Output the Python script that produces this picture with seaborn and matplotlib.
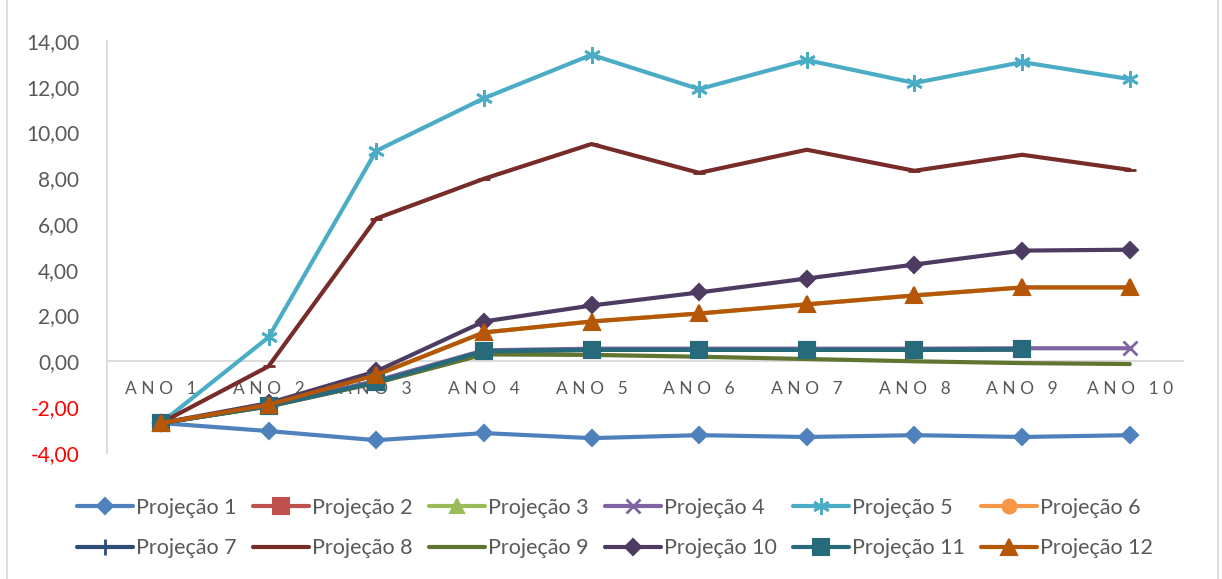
import numpy as np
import pandas as pd
import matplotlib
matplotlib.use("Agg")
import matplotlib.pyplot as plt
import seaborn as sns
from matplotlib.patches import Rectangle

anos = ["ANO 1", "ANO 2", "ANO 3", "ANO 4", "ANO 5", "ANO 6", "ANO 7", "ANO 8", "ANO 9", "ANO 10"]
nan = np.nan

proj1 = [-2.70, -3.05, -3.45, -3.14, -3.36, -3.23, -3.31, -3.23, -3.31, -3.23]
proj2 = [-2.70, -1.96, -0.92, 0.44, 0.50, 0.50, 0.50, 0.50, 0.52, nan]
proj3 = [-2.70, -1.90, -0.60, 1.26, 1.74, 2.09, 2.49, 2.88, 3.23, 3.23]
proj4 = [-2.70, -1.95, -0.85, 0.48, 0.55, 0.55, 0.55, 0.55, 0.57, 0.57]
proj5 = [-2.70, 1.05, 9.20, 11.50, 13.40, 11.90, 13.17, 12.17, 13.08, 12.34]
proj6 = [-2.70, nan, nan, nan, nan, nan, nan, nan, nan, nan]
proj7 = [-2.70, -1.96, -0.92, 0.44, 0.50, 0.50, 0.50, 0.50, 0.52, nan]
proj8 = [-2.70, -0.22, 6.24, 7.98, 9.50, 8.24, 9.25, 8.33, 9.03, 8.37]
proj9 = [-2.70, -1.98, -0.95, 0.30, 0.28, 0.20, 0.10, 0.00, -0.08, -0.12]
proj10 = [-2.70, -1.83, -0.44, 1.74, 2.44, 3.01, 3.62, 4.23, 4.84, 4.88]
proj11 = [-2.70, -1.96, -0.92, 0.44, 0.50, 0.50, 0.50, 0.50, 0.52, nan]
proj12 = [-2.70, -1.90, -0.60, 1.26, 1.74, 2.09, 2.49, 2.88, 3.23, 3.23]

series = [proj1, proj2, proj3, proj4, proj5, proj6, proj7, proj8, proj9, proj10, proj11, proj12]
nomes = ["Projeção %d" % (i + 1) for i in range(12)]

cores = ["#4F81BD", "#C0504D", "#9BBB59", "#8064A2", "#4BACC6", "#F79646",
         "#2C4D75", "#772C2A", "#5F7530", "#4D3B62", "#276A7C", "#B65708"]
marcadores = ["D", "s", "^", "x", (6, 2, 0), "o", "+", "_", None, "D", "s", "^"]
tamanhos = [8, 11, 10, 10, 12, 10, 11, 9, 0, 8, 12, 12]

sns.set_style("white")
plt.rcParams['font.family'] = ['Lato', 'DejaVu Sans']

fig = plt.figure(figsize=(12.22, 5.79), dpi=100)
ax = fig.add_axes([0.0876, 0.218, 0.881, 0.711])
fig.patches.append(Rectangle((0.006, -0.01), 0.991, 1.02, transform=fig.transFigure,
                             fill=False, edgecolor="#d9d9d9", lw=1.2))

x = np.arange(len(anos))
for i, ys in enumerate(series):
    df = pd.DataFrame({"x": x, "y": ys})
    mk = marcadores[i]
    kw = {}
    if mk is not None:
        kw = dict(marker=mk, markersize=tamanhos[i], markeredgecolor=cores[i],
                  markerfacecolor=cores[i], markeredgewidth=1.5 if mk not in ("x", "+", "_", (6, 2, 0)) else 2)
    sns.lineplot(data=df, x="x", y="y", ax=ax, color=cores[i], lw=3, label=nomes[i], zorder=3 + i, **kw)

ax.axhline(0, color="#d9d9d9", lw=1.3, zorder=1)
ax.set_xlim(-0.5, 9.5)
ax.set_ylim(-4, 14)
ax.set_yticks(np.arange(-4, 15, 2))
ax.set_yticklabels([("%.2f" % v).replace(".", ",") for v in np.arange(-4, 15, 2)])
for lab, v in zip(ax.get_yticklabels(), np.arange(-4, 15, 2)):
    lab.set_color("red" if v < 0 else "#595959")
    lab.set_fontsize(15)
ax.tick_params(axis="y", length=0, pad=20)
ax.set_xticks([])
ax.set_xlabel("")
ax.set_ylabel("")
for s in ["top", "right", "bottom"]:
    ax.spines[s].set_visible(False)
ax.spines["left"].set_color("#d9d9d9")
ax.spines["left"].set_linewidth(1.3)

for i, a in enumerate(anos):
    ax.annotate(" ".join(a), xy=(i, 0), xytext=(0, -20),
                textcoords="offset points", ha="center", va="center",
                fontsize=12.5, color="#595959", zorder=2)

# legenda em linhas (matplotlib preenche por coluna)
handles, labels = ax.get_legend_handles_labels()
ordem = [r * 6 + c for c in range(6) for r in range(2)]
ax.legend([handles[k] for k in ordem], [labels[k] for k in ordem],
          loc="upper center", bbox_to_anchor=(0.472, -0.062), ncol=6,
          frameon=False, fontsize=15.5, labelcolor="#595959", handlelength=2.6,
          handletextpad=0.15, columnspacing=0.75, labelspacing=0.95)

fig.savefig("out.png", dpi=100)
